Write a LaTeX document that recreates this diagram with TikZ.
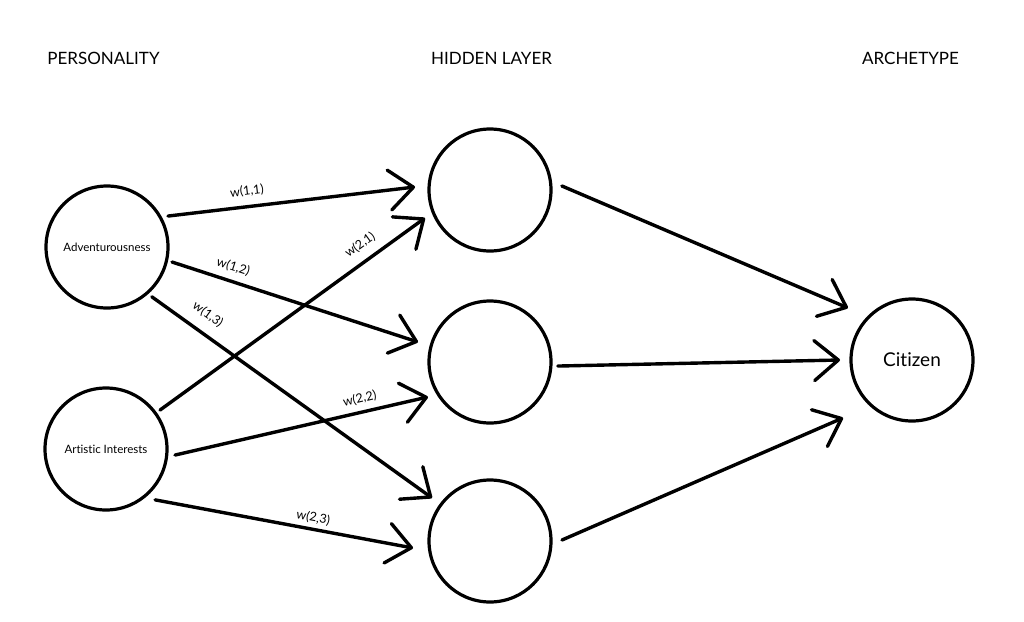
\documentclass[tikz,border=0pt]{standalone}
\usepackage{fontspec}
\setmainfont{Lato}[Ligatures={NoCommon}]
\usetikzlibrary{arrows.meta,calc}
\begin{document}
\begin{tikzpicture}[x=1pt,y=1pt,
  neuron/.style={circle,draw=black,line width=3.2pt,minimum size=122pt,inner sep=0pt},
  arr/.style={line width=3.4pt,line cap=round,-{Straight Barb[length=24pt,width=40pt,line cap=round,line join=round]}},
  lbl/.style={font=\fontsize{12.5}{14}\selectfont,inner sep=1pt,sloped},
  head/.style={font=\fontsize{17}{20}\selectfont,inner sep=0pt}]
\useasboundingbox (0,0) rectangle (1024,-621);
\fill[white] (0,0) rectangle (1024,-621);
% headers
\node[head] (hp) at (103.5,-58) {PERSONALITY};
\node[head] (hh) at (491.5,-58) {HIDDEN LAYER};
\node[head] (ha) at (910.5,-58) {ARCHETYPE};
% neurons
\node[neuron,font=\fontsize{11.5}{13}\selectfont] (adv) at (107,-247) {Adventurousness};
\node[neuron,font=\fontsize{11.5}{13}\selectfont] (art) at (106,-449) {Artistic Interests};
\node[neuron] (h1) at (490,-190) {};
\node[neuron] (h2) at (490,-362) {};
\node[neuron] (h3) at (490,-541) {};
\node[neuron,font=\fontsize{19}{22}\selectfont] (cit) at (912,-360) {Citizen};
% input -> hidden
\draw[arr] ($(adv)+(26.9:68.4)$) -- ($(h1)+(177.7:75)$)
  node[lbl,pos=0.327,above=7pt] {w(1,1)};
\draw[arr] ($(adv)+(-13:66.7)$) -- ($(h2)+(164.5:74.7)$)
  node[lbl,pos=0.231,above=6pt] {w(1,2)};
\draw[arr] ($(adv)+(-48:67)$) -- ($(h3)+(143.4:72.2)$)
  node[lbl,pos=0.162,above=10pt] {w(1,3)};
\draw[arr] ($(art)+(35.8:66.6)$) -- ($(h1)+(203.3:70.8)$)
  node[lbl,pos=0.791,above=8pt] {w(2,1)};
\draw[arr] ($(art)+(-5:69.3)$) -- ($(h2)+(209.4:71.2)$)
  node[lbl,pos=0.742,above=5pt] {w(2,2)};
\draw[arr] ($(art)+(-46:70.7)$) -- ($(h3)+(185.2:77.3)$)
  node[lbl,pos=0.605,above=3pt] {w(2,3)};
% hidden -> output
\draw[arr] ($(h1)+(3.2:72)$) -- ($(cit)+(140.9:82.5)$);
\draw[arr] ($(h2)+(-3.4:68)$) -- ($(cit)+(180:72)$);
\draw[arr] ($(h3)+(0.8:72)$) -- ($(cit)+(220:90)$);
\end{tikzpicture}
\end{document}
